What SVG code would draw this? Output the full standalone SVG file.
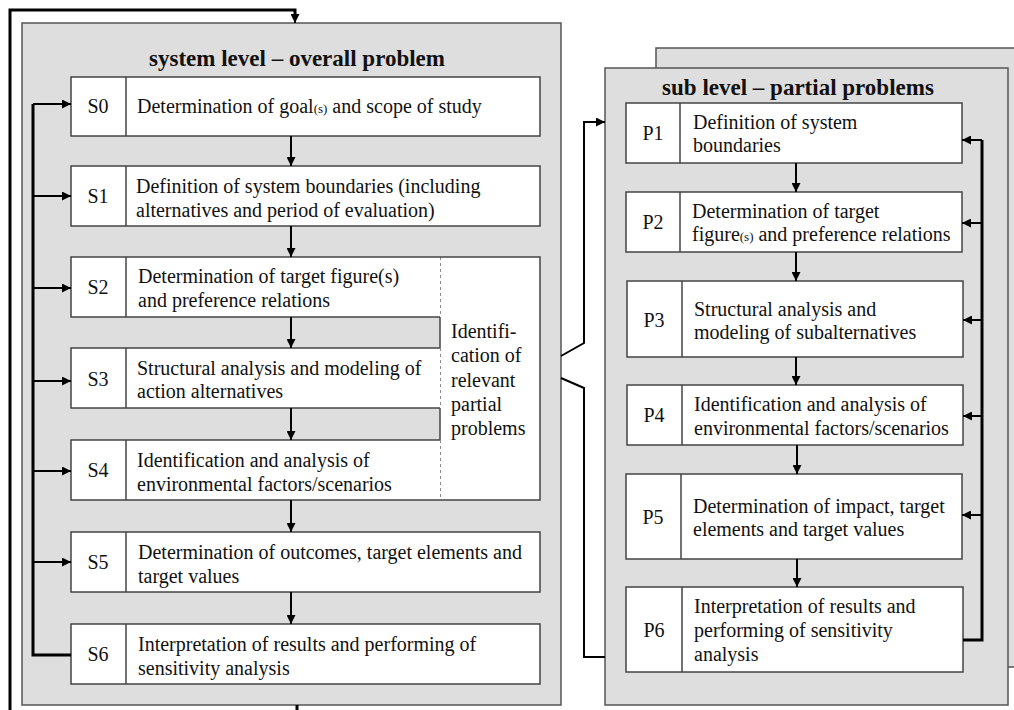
<svg xmlns="http://www.w3.org/2000/svg" width="1014" height="710" viewBox="0 0 1014 710">
<defs>
<marker id="ah" viewBox="0 0 10 10" markerUnits="userSpaceOnUse" markerWidth="9" markerHeight="9" refX="10" refY="5" orient="auto" preserveAspectRatio="none">
<path d="M0,0 L10,5 L0,10 z" fill="#000"/>
</marker>
<style>
.panel{fill:#dedede;stroke:#555;stroke-width:1.5}
.box{fill:#fff;stroke:#444;stroke-width:1.5}
.div{stroke:#444;stroke-width:1.5}
.t{font-family:"Liberation Serif","Times New Roman",serif;font-size:20px;fill:#111}
.lbl{font-family:"Liberation Serif","Times New Roman",serif;font-size:20px;fill:#111;text-anchor:middle}
.sm{font-size:13px}
.title{font-family:"Liberation Serif","Times New Roman",serif;font-size:23px;font-weight:bold;fill:#111;text-anchor:middle}
.fl{fill:none;stroke:#000;stroke-width:3}
.ar{fill:none;stroke:#000;stroke-width:2;marker-end:url(#ah)}
.br{fill:none;stroke:#000;stroke-width:2}
.dash{stroke:#444;stroke-width:1.2;stroke-dasharray:3,3}
</style>
</defs>
<rect width="1014" height="710" fill="#fff"/>

<g id="system-panel">
<rect class="panel" x="22" y="23" width="539" height="682"/>
<text class="title" x="297" y="66">system level – overall problem</text>
</g>

<g id="sub-panel">
<rect class="panel" x="656" y="48" width="380" height="619"/>
<rect class="panel" x="605" y="68" width="403" height="637"/>
<text class="title" x="798" y="95">sub level – partial problems</text>
</g>

<g id="S0">
<rect class="box" x="71" y="77" width="469" height="59"/>
<line class="div" x1="126" y1="77" x2="126" y2="136"/>
<text class="lbl" x="98" y="113">S0</text>
<text class="t" x="137" y="113">Determination of goal<tspan class="sm">(s)</tspan> and scope of study</text>
</g>

<g id="S1">
<rect class="box" x="71" y="166" width="469" height="60"/>
<line class="div" x1="126" y1="166" x2="126" y2="226"/>
<text class="lbl" x="98" y="203">S1</text>
<text class="t" x="136" y="193">Definition of system boundaries (including</text>
<text class="t" x="136" y="217">alternatives and period of evaluation)</text>
</g>

<g id="identification">
<path class="box" d="M440,257 H540 V500 H440" />
<line class="div" x1="440" y1="317" x2="440" y2="348"/>
<line class="div" x1="440" y1="408" x2="440" y2="440"/>
<line class="dash" x1="440" y1="257" x2="440" y2="317"/>
<line class="dash" x1="440" y1="348" x2="440" y2="408"/>
<line class="dash" x1="440" y1="440" x2="440" y2="500"/>
<text class="t" x="451" y="338">Identifi-</text>
<text class="t" x="451" y="362">cation of</text>
<text class="t" x="451" y="387">relevant</text>
<text class="t" x="451" y="411">partial</text>
<text class="t" x="451" y="435">problems</text>
</g>

<g id="S2">
<path class="box" d="M440,257 H71 V317 H440"/>
<line class="div" x1="126" y1="257" x2="126" y2="317"/>
<text class="lbl" x="98" y="294">S2</text>
<text class="t" x="138" y="283">Determination of target figure(s)</text>
<text class="t" x="138" y="307">and preference relations</text>
</g>

<g id="S3">
<path class="box" d="M440,348 H71 V408 H440"/>
<line class="div" x1="126" y1="348" x2="126" y2="408"/>
<text class="lbl" x="98" y="386">S3</text>
<text class="t" x="137" y="375">Structural analysis and modeling of</text>
<text class="t" x="137" y="398">action alternatives</text>
</g>

<g id="S4">
<path class="box" d="M440,440 H71 V500 H440"/>
<line class="div" x1="126" y1="440" x2="126" y2="500"/>
<text class="lbl" x="98" y="477">S4</text>
<text class="t" x="137" y="467">Identification and analysis of</text>
<text class="t" x="137" y="491">environmental factors/scenarios</text>
</g>

<g id="S5">
<rect class="box" x="71" y="532" width="469" height="60"/>
<line class="div" x1="126" y1="532" x2="126" y2="592"/>
<text class="lbl" x="98" y="569">S5</text>
<text class="t" x="138" y="559">Determination of outcomes, target elements and</text>
<text class="t" x="138" y="583">target values</text>
</g>

<g id="S6">
<rect class="box" x="71" y="624" width="469" height="60"/>
<line class="div" x1="126" y1="624" x2="126" y2="684"/>
<text class="lbl" x="98" y="661">S6</text>
<text class="t" x="138" y="651">Interpretation of results and performing of</text>
<text class="t" x="138" y="675">sensitivity analysis</text>
</g>

<g id="P1">
<rect class="box" x="626" y="103" width="336" height="60"/>
<line class="div" x1="680" y1="103" x2="680" y2="163"/>
<text class="lbl" x="653" y="140">P1</text>
<text class="t" x="693" y="129">Definition of system</text>
<text class="t" x="693" y="152">boundaries</text>
</g>

<g id="P2">
<rect class="box" x="626" y="192" width="336" height="60"/>
<line class="div" x1="680" y1="192" x2="680" y2="252"/>
<text class="lbl" x="653" y="229">P2</text>
<text class="t" x="692" y="218">Determination of target</text>
<text class="t" x="692" y="241">figure<tspan class="sm">(s)</tspan> and preference relations</text>
</g>

<g id="P3">
<rect class="box" x="627" y="281" width="336" height="76"/>
<line class="div" x1="682" y1="281" x2="682" y2="357"/>
<text class="lbl" x="654" y="327">P3</text>
<text class="t" x="694" y="316">Structural analysis and</text>
<text class="t" x="694" y="339">modeling of subalternatives</text>
</g>

<g id="P4">
<rect class="box" x="627" y="385" width="336" height="60"/>
<line class="div" x1="682" y1="385" x2="682" y2="445"/>
<text class="lbl" x="654" y="422">P4</text>
<text class="t" x="694" y="411">Identification and analysis of</text>
<text class="t" x="694" y="435">environmental factors/scenarios</text>
</g>

<g id="P5">
<rect class="box" x="626" y="474" width="336" height="85"/>
<line class="div" x1="681" y1="474" x2="681" y2="559"/>
<text class="lbl" x="653" y="524">P5</text>
<text class="t" x="693" y="513">Determination of impact, target</text>
<text class="t" x="693" y="536">elements and target values</text>
</g>

<g id="P6">
<rect class="box" x="626" y="587" width="337" height="85"/>
<line class="div" x1="682" y1="587" x2="682" y2="672"/>
<text class="lbl" x="654" y="637">P6</text>
<text class="t" x="694" y="613">Interpretation of results and</text>
<text class="t" x="694" y="637">performing of sensitivity</text>
<text class="t" x="694" y="661">analysis</text>
</g>

<g id="connectors">
<path class="fl" d="M10,720 V10 H295 V16"/>
<line class="ar" x1="295" y1="12" x2="295" y2="23"/>
<line class="fl" x1="297" y1="705" x2="297" y2="720"/>
<path class="fl" d="M71,655 H33 V104"/>
<line class="ar" x1="33" y1="104" x2="71" y2="104"/>
<line class="ar" x1="33" y1="196" x2="71" y2="196"/>
<line class="ar" x1="33" y1="288" x2="71" y2="288"/>
<line class="ar" x1="33" y1="381" x2="71" y2="381"/>
<line class="ar" x1="33" y1="471" x2="71" y2="471"/>
<line class="ar" x1="33" y1="562" x2="71" y2="562"/>
<line class="ar" x1="291" y1="136" x2="291" y2="166"/>
<line class="ar" x1="291" y1="226" x2="291" y2="257"/>
<line class="ar" x1="291" y1="317" x2="291" y2="348"/>
<line class="ar" x1="291" y1="408" x2="291" y2="440"/>
<line class="ar" x1="291" y1="500" x2="291" y2="532"/>
<line class="ar" x1="291" y1="592" x2="291" y2="624"/>
<path class="br" d="M561,356 L584,343 V122 H596"/>
<line class="ar" x1="584" y1="122" x2="605" y2="122"/>
<path class="br" d="M561,378 L584,388 V657 H605"/>
<line class="ar" x1="796" y1="163" x2="796" y2="192"/>
<line class="ar" x1="796" y1="252" x2="796" y2="281"/>
<line class="ar" x1="796" y1="357" x2="796" y2="385"/>
<line class="ar" x1="797" y1="445" x2="797" y2="474"/>
<line class="ar" x1="797" y1="559" x2="797" y2="587"/>
<path class="fl" d="M963,640 H982 V140"/>
<line class="ar" x1="982" y1="140" x2="962" y2="140"/>
<line class="ar" x1="982" y1="223" x2="962" y2="223"/>
<line class="ar" x1="982" y1="320" x2="963" y2="320"/>
<line class="ar" x1="982" y1="416" x2="963" y2="416"/>
<line class="ar" x1="982" y1="515" x2="962" y2="515"/>
</g>
</svg>
